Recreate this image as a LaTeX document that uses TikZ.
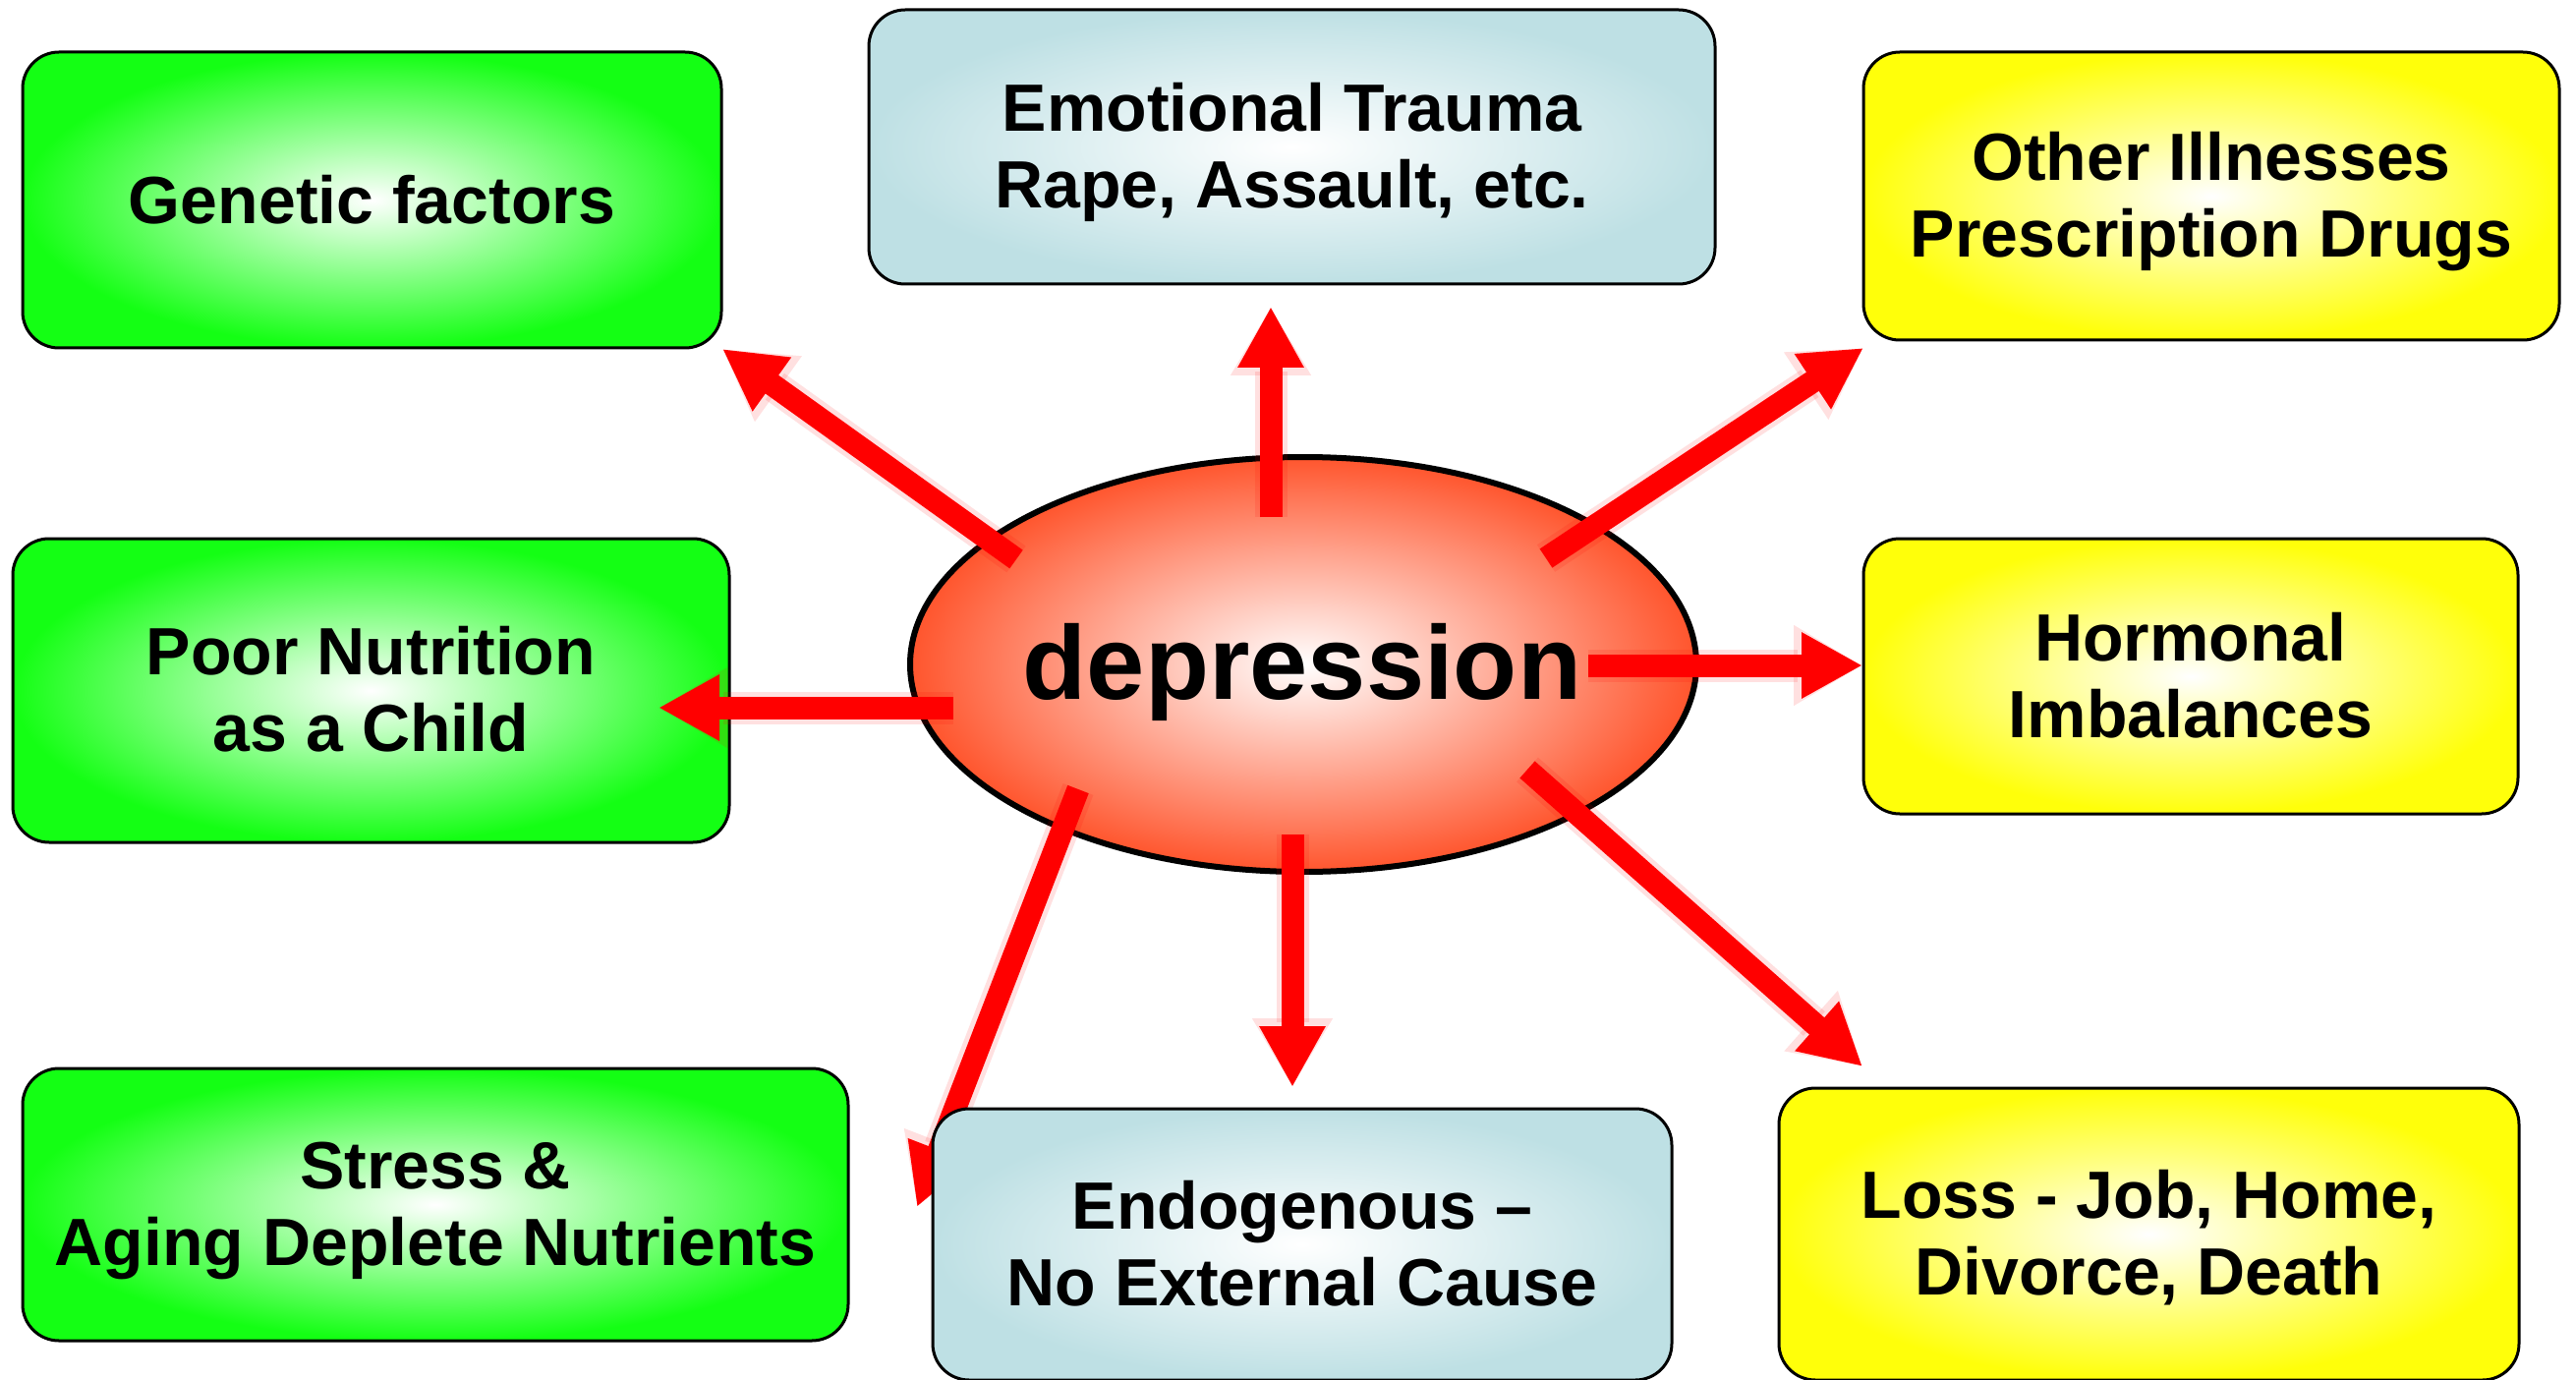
\documentclass[tikz,border=0pt]{standalone}
\usepackage{fontspec}
\setmainfont{Liberation Sans}
\usetikzlibrary{shapes.geometric,arrows.meta}
\pgfdeclarelayer{arrowlayer}
\pgfdeclarelayer{toplayer}
\pgfsetlayers{main,arrowlayer,toplayer}
\definecolor{gfill}{RGB}{20,255,20}
\definecolor{yfill}{RGB}{255,255,10}
\definecolor{bfill}{RGB}{190,224,228}
\definecolor{efill}{RGB}{255,85,45}
\definecolor{arrowred}{RGB}{255,0,0}
\newcommand\myTopStrut{\rule{0pt}{60pt}}
\newcommand\myBotStrut{\rule[-14pt]{0pt}{14pt}}
\begin{document}
\begin{tikzpicture}[x=1pt,y=-1pt,
  box/.style={draw=black, line width=3pt, rounded corners=37pt, inner sep=0pt,
    align=center, shading=radial, inner color=white,
    font=\bfseries\fontsize{68}{78}\selectfont},
  greenbox/.style={box, outer color=gfill},
  yellowbox/.style={box, outer color=yfill},
  bluebox/.style={box, outer color=bfill},
  bigarrow/.style={draw=arrowred, line width=23pt,
    -{Triangle[width=63pt,length=62pt]},
    preaction={draw=arrowred, draw opacity=0.12, fill opacity=0.12, line width=33pt,
      -{Triangle[width=77pt,length=70pt]}}}
]
\useasboundingbox (0,0) rectangle (2621,1404);

% boxes
\node[greenbox, minimum width=711pt, minimum height=301pt] (gen) at (378.5,203.5) {Genetic factors};
\node[bluebox, minimum width=861pt, minimum height=279pt] (emo) at (1314.5,149.5) {\myTopStrut Emotional Trauma\\Rape, Assault, etc.\myBotStrut};
\node[yellowbox, minimum width=708pt, minimum height=293pt] (oth) at (2250,199.5) {\myTopStrut Other Illnesses\\Prescription Drugs\myBotStrut};
\node[greenbox, minimum width=729pt, minimum height=309pt] (poor) at (377.5,702.5) {\myTopStrut Poor Nutrition\\as a Child\myBotStrut};
\node[yellowbox, minimum width=666pt, minimum height=280pt] (hor) at (2229,688) {\myTopStrut Hormonal\\Imbalances\myBotStrut};
\node[greenbox, minimum width=840pt, minimum height=277pt] (str) at (443,1225.5) {\myTopStrut Stress \&\\Aging Deplete Nutrients\myBotStrut};
\node[yellowbox, minimum width=753pt, minimum height=297pt] (loss) at (2186.5,1255.5) {\myTopStrut Loss - Job, Home,\\Divorce, Death\myBotStrut};

% central ellipse
\node[ellipse, draw=black, line width=6pt, minimum width=800pt, minimum height=422pt,
  inner sep=0pt, shading=radial, inner color=white, outer color=efill] (dep) at (1326,676) {};
\node[anchor=base, inner sep=0pt, font=\bfseries\fontsize{106.5}{120}\selectfont] (deptext) at (1325,711) {depression};

% arrow end points
\coordinate (genS) at (1034,569);  \coordinate (genT) at (735,355);
\coordinate (emoS) at (1293,526);  \coordinate (emoT) at (1293,312);
\coordinate (othS) at (1573,568);  \coordinate (othT) at (1896,354);
\coordinate (poorS) at (970,720);  \coordinate (poorT) at (670,720);
\coordinate (horS) at (1616,677);  \coordinate (horT) at (1895,677);
\coordinate (endoS) at (1315,849); \coordinate (endoT) at (1315,1106);
\coordinate (lossS) at (1554,783); \coordinate (lossT) at (1895,1085);
\coordinate (strS) at (1097,803);  \coordinate (strT) at (933,1228);

\begin{pgfonlayer}{arrowlayer}
\draw[bigarrow] (genS) -- (genT);
\draw[bigarrow] (emoS) -- (emoT);
\draw[bigarrow] (othS) -- (othT);
\draw[bigarrow] (poorS) -- (poorT);
\draw[bigarrow] (horS) -- (horT);
\draw[bigarrow] (endoS) -- (endoT);
\draw[bigarrow] (lossS) -- (lossT);
\draw[bigarrow] (strS) -- (strT);
\end{pgfonlayer}

\begin{pgfonlayer}{toplayer}
\node[bluebox, minimum width=752pt, minimum height=276pt] (endo) at (1325,1266) {\myTopStrut Endogenous –\\No External Cause\myBotStrut};
\end{pgfonlayer}
\end{tikzpicture}
\end{document}
